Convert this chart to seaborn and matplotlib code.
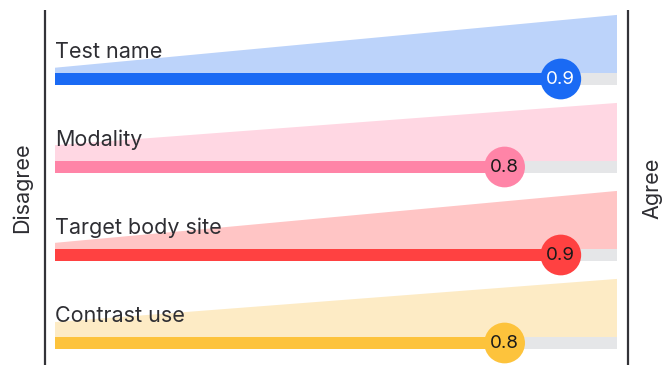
import numpy as np
import pandas as pd
import matplotlib
matplotlib.use("Agg")
import matplotlib.pyplot as plt
import seaborn as sns

# Data
items = ["Test name", "Modality", "Target body site", "Contrast use"]
scores = [0.9, 0.8, 0.9, 0.8]
bar_colors = ["#1A6AF4", "#FF84A7", "#FF4141", "#FDC33C"]
wedge_colors = ["#BCD3FA", "#FFD7E3", "#FFC5C5", "#FDEBC5"]
value_text_colors = ["white", "#1a1a1a", "#1a1a1a", "#1a1a1a"]
scale_left = "Disagree"
scale_right = "Agree"

sns.set_theme(style="white")
plt.rcParams["font.family"] = ["Inter", "DejaVu Sans"]

W, H = 667, 368
fig = plt.figure(figsize=(W / 100, H / 100), dpi=100)
ax = fig.add_axes([55 / W, 0, 562 / W, 1])

df = pd.DataFrame({"item": items, "score": scores, "full": [1.0] * len(items)})

bar_h = 12 / 88
# grey track
sns.barplot(data=df, x="full", y="item", orient="h", color="#E5E6E8",
            width=bar_h, ax=ax, zorder=2, saturation=1, linewidth=0)
# filled score bars
sns.barplot(data=df, x="score", y="item", orient="h", hue="item",
            palette=bar_colors, width=bar_h, ax=ax, zorder=3,
            saturation=1, legend=False, dodge=False, linewidth=0)

# rising wedges above each track
wedge_lo = [0.06, 0.18, 0.07, 0.17]
wedge_hi = 0.66
for i, c in enumerate(wedge_colors):
    top = i - bar_h / 2
    ax.fill([0, 1, 1, 0], [top, top, top - wedge_hi, top - wedge_lo[i]],
            color=c, lw=0, zorder=1)
    ax.text(0, i - 0.239, items[i], fontsize=15.5, color="#2e2e33",
            ha="left", va="baseline", zorder=5)

# score markers
ax.scatter(scores, range(len(items)), s=860, c=bar_colors, zorder=6,
           linewidths=0)
for i, (v, tc) in enumerate(zip(scores, value_text_colors)):
    ax.text(v, i + 0.01, f"{v:.1f}", fontsize=13.5, color=tc,
            ha="center", va="center", zorder=7)

# scale end lines
y0, y1 = (10 - 79) / 88, (365 - 79) / 88
for xv in (-10 / 562, 1 + 11 / 562):
    ax.plot([xv, xv], [y0, y1], color="#333338", lw=1.6, clip_on=False,
            solid_capstyle="butt")

ax.set_xlim(0, 1)
ax.set_ylim((368 - 79) / 88, -79 / 88)
ax.axis("off")

fig.text(22 / W, 1 - 188 / H, scale_left, rotation=90, fontsize=15.5,
         color="#2e2e33", ha="center", va="center")
fig.text(652 / W, 1 - 188 / H, scale_right, rotation=90, fontsize=15.5,
         color="#2e2e33", ha="center", va="center")

fig.savefig("out.png", dpi=100)
